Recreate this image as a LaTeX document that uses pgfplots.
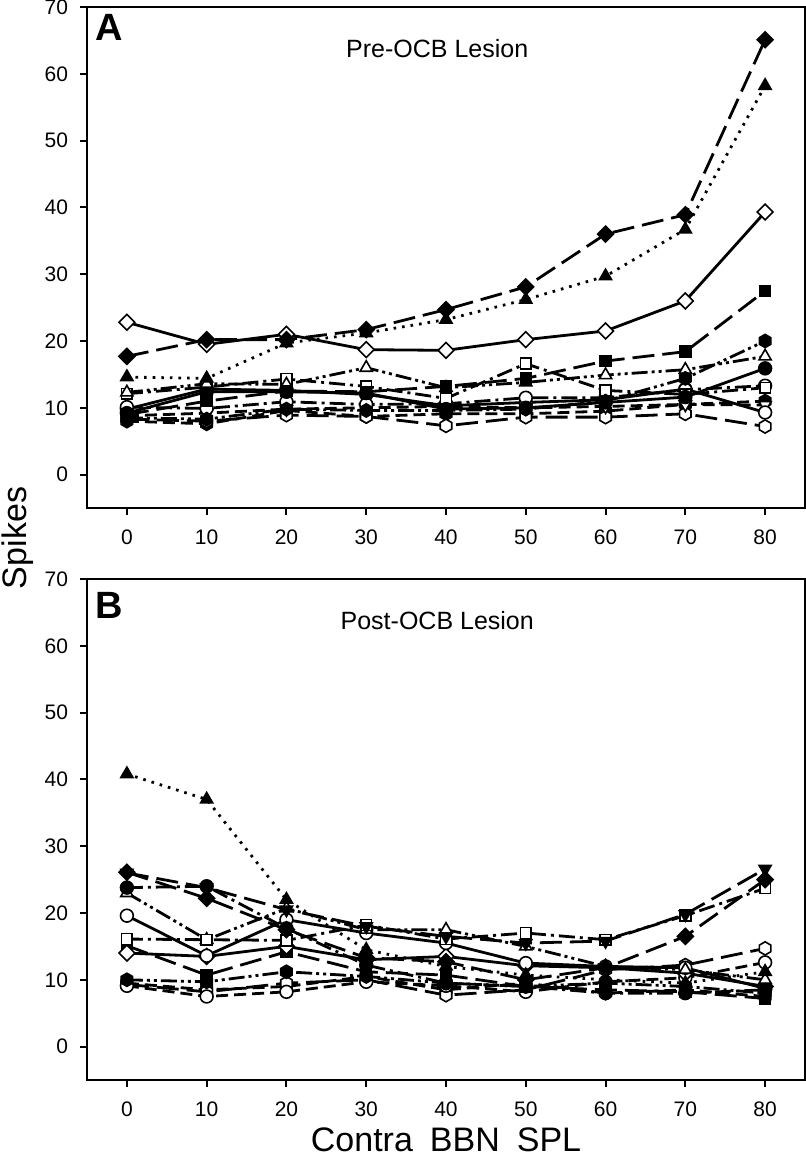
\documentclass[border=0pt]{standalone}
\usepackage{fontspec}
\setmainfont{Liberation Sans}
\usepackage{pgfplots}
\pgfplotsset{compat=1.18}
\pgfdeclareplotmark{hexagon}{%
  \pgfpathmoveto{\pgfqpointpolar{90}{\pgfplotmarksize}}%
  \pgfpathlineto{\pgfqpointpolar{150}{\pgfplotmarksize}}%
  \pgfpathlineto{\pgfqpointpolar{210}{\pgfplotmarksize}}%
  \pgfpathlineto{\pgfqpointpolar{270}{\pgfplotmarksize}}%
  \pgfpathlineto{\pgfqpointpolar{330}{\pgfplotmarksize}}%
  \pgfpathlineto{\pgfqpointpolar{30}{\pgfplotmarksize}}%
  \pgfpathclose\pgfusepathqstroke}
\pgfdeclareplotmark{hexagon*}{%
  \pgfpathmoveto{\pgfqpointpolar{90}{\pgfplotmarksize}}%
  \pgfpathlineto{\pgfqpointpolar{150}{\pgfplotmarksize}}%
  \pgfpathlineto{\pgfqpointpolar{210}{\pgfplotmarksize}}%
  \pgfpathlineto{\pgfqpointpolar{270}{\pgfplotmarksize}}%
  \pgfpathlineto{\pgfqpointpolar{330}{\pgfplotmarksize}}%
  \pgfpathlineto{\pgfqpointpolar{30}{\pgfplotmarksize}}%
  \pgfpathclose\pgfusepathqfillstroke}
\pgfplotsset{
  every axis plot/.append style={line width=1.4pt, black},
  ldash/.style={dash pattern=on 11pt off 4pt},
  mdash/.style={dash pattern=on 6pt off 3pt},
  dotl/.style={dash pattern=on 1.3pt off 3pt},
  dashdot/.style={dash pattern=on 8pt off 2.5pt on 1.5pt off 2.5pt},
  dashdotdot/.style={dash pattern=on 8pt off 2pt on 1.5pt off 2pt on 1.5pt off 2pt},
  fdia/.style={mark=square*, mark options={solid, rotate=45, fill=black, line width=0.8pt, mark size=2.8pt}},
  odia/.style={mark=square*, mark options={solid, rotate=45, fill=white, line width=0.8pt, mark size=2.8pt}},
  ftri/.style={mark=triangle*, mark options={solid, fill=black, line width=0.8pt, mark size=3.5pt}},
  otri/.style={mark=triangle*, mark options={solid, fill=white, line width=0.8pt, mark size=3.5pt}},
  fdtri/.style={mark=triangle*, mark options={solid, rotate=180, fill=black, line width=0.8pt, mark size=3.5pt}},
  odtri/.style={mark=triangle*, mark options={solid, rotate=180, fill=white, line width=0.8pt, mark size=3.5pt}},
  fsq/.style={mark=square*, mark options={solid, fill=black, line width=0.8pt, mark size=2.7pt}},
  osq/.style={mark=square*, mark options={solid, fill=white, line width=0.8pt, mark size=2.7pt}},
  fcirc/.style={mark=*, mark options={solid, fill=black, line width=0.8pt, mark size=3.2pt}},
  ocirc/.style={mark=*, mark options={solid, fill=white, line width=0.8pt, mark size=3.2pt}},
  fhex/.style={mark=hexagon*, mark options={solid, fill=black, line width=0.8pt, mark size=3.3pt}},
  ohex/.style={mark=hexagon*, mark options={solid, fill=white, line width=0.8pt, mark size=3.3pt}},
  panel/.style={width=359pt, height=250.5pt, scale only axis,
    xmin=-5, xmax=85, ymin=-5, ymax=70,
    xtick={0,10,...,80}, ytick={0,10,...,70},
    tick align=outside, tick pos=left, major tick length=3.5pt,
    axis line style={line width=1pt},
    major tick style={line width=1pt, black},
    tick label style={font=\fontsize{10.5}{12}\selectfont},
    /pgf/number format/assume math mode=true,
    yticklabel shift=2.5pt, xticklabel shift=4pt},
}
\begin{document}
\begin{tikzpicture}
\useasboundingbox (0,0) rectangle (403pt,585pt);
\begin{axis}[panel, at={(43.5pt,331pt)}, anchor=south west]
\addplot[mdash, fhex] coordinates {(0,8.0)(10,7.6)(20,9.6)(30,8.7)(40,9.1)(50,9.1)(60,9.5)(70,10.5)(80,11.0)};
\addplot[ldash, ohex] coordinates {(0,8.3)(10,8.0)(20,8.9)(30,8.7)(40,7.3)(50,8.6)(60,8.6)(70,9.1)(80,7.2)};
\addplot[mdash, odtri] coordinates {(0,8.8)(10,9.2)(20,9.8)(30,10.0)(40,10.2)(50,10.0)(60,10.2)(70,10.5)(80,10.4)};
\addplot[solid, ocirc] coordinates {(0,9.8)(10,12.8)(20,12.6)(30,12.0)(40,10.3)(50,10.8)(60,11.2)(70,12.8)(80,9.3)};
\addplot[dashdot, ocirc] coordinates {(0,10.1)(10,9.9)(20,10.9)(30,10.5)(40,10.6)(50,11.5)(60,11.5)(70,12.7)(80,13.3)};
\addplot[dashdot, osq] coordinates {(0,12.1)(10,13.1)(20,14.3)(30,13.2)(40,11.4)(50,16.6)(60,12.6)(70,12.0)(80,13.0)};
\addplot[solid, fcirc] coordinates {(0,9.2)(10,12.4)(20,12.4)(30,12.2)(40,9.8)(50,10.0)(60,10.8)(70,11.6)(80,15.9)};
\addplot[dashdotdot, otri] coordinates {(0,12.3)(10,13.6)(20,13.5)(30,16.0)(40,13.0)(50,13.8)(60,14.9)(70,15.7)(80,17.7)};
\addplot[dashdotdot, fhex] coordinates {(0,8.5)(10,8.3)(20,9.8)(30,9.6)(40,9.6)(50,9.8)(60,11.0)(70,14.4)(80,20.0)};
\addplot[ldash, fsq] coordinates {(0,9.0)(10,11.0)(20,12.5)(30,12.4)(40,13.2)(50,14.4)(60,17.0)(70,18.4)(80,27.5)};
\addplot[solid, odia] coordinates {(0,22.8)(10,19.5)(20,21.0)(30,18.7)(40,18.6)(50,20.2)(60,21.5)(70,26.0)(80,39.3)};
\addplot[dotl, ftri] coordinates {(0,14.6)(10,14.4)(20,19.7)(30,21.2)(40,23.2)(50,26.2)(60,29.7)(70,36.7)(80,58.2)};
\addplot[ldash, fdia] coordinates {(0,17.7)(10,20.2)(20,20.2)(30,21.7)(40,24.7)(50,28.1)(60,36.0)(70,38.9)(80,65.1)};
\node[font=\bfseries\fontsize{19}{20}\selectfont] at (axis cs:-2.25,67.0) {A};
\node[anchor=base, font=\fontsize{12.5}{14}\selectfont] at (axis cs:38.9,62.5) {Pre-OCB Lesion};
\end{axis}
\begin{axis}[panel, at={(43.5pt,45pt)}, anchor=south west]
\addplot[mdash, fhex] coordinates {(0,9.5)(10,8.5)(20,9.0)(30,10.5)(40,8.5)(50,9.5)(60,8.0)(70,8.5)(80,7.5)};
\addplot[ldash, ohex] coordinates {(0,9.3)(10,8.2)(20,9.5)(30,10.0)(40,7.7)(50,8.5)(60,11.5)(70,12.2)(80,14.7)};
\addplot[mdash, ocirc] coordinates {(0,9.1)(10,7.5)(20,8.2)(30,9.7)(40,9.1)(50,8.2)(60,9.7)(70,10.3)(80,12.6)};
\addplot[dashdotdot, fhex] coordinates {(0,10.0)(10,9.7)(20,11.2)(30,10.5)(40,9.5)(50,9.0)(60,9.5)(70,9.0)(80,8.0)};
\addplot[ldash, fsq] coordinates {(0,15.1)(10,10.7)(20,14.2)(30,11.2)(40,10.7)(50,9.0)(60,8.5)(70,8.2)(80,7.2)};
\addplot[solid, odia] coordinates {(0,14.0)(10,13.5)(20,15.0)(30,13.0)(40,13.5)(50,12.1)(60,11.8)(70,11.0)(80,9.0)};
\addplot[solid, ocirc] coordinates {(0,19.6)(10,13.6)(20,19.0)(30,17.0)(40,15.5)(50,12.5)(60,12.0)(70,11.8)(80,8.7)};
\addplot[dashdotdot, otri] coordinates {(0,23.0)(10,16.0)(20,20.7)(30,17.5)(40,17.5)(50,15.0)(60,12.0)(70,11.5)(80,10.0)};
\addplot[dashdot, fcirc] coordinates {(0,23.8)(10,24.0)(20,17.7)(30,12.2)(40,9.5)(50,9.0)(60,8.0)(70,8.0)(80,8.5)};
\addplot[dashdot, osq] coordinates {(0,16.1)(10,16.0)(20,15.9)(30,18.2)(40,16.1)(50,17.0)(60,16.0)(70,19.6)(80,23.7)};
\addplot[ldash, fdtri] coordinates {(0,26.0)(10,23.8)(20,20.5)(30,18.0)(40,16.5)(50,15.5)(60,15.8)(70,19.8)(80,26.6)};
\addplot[ldash, fdia] coordinates {(0,26.1)(10,22.2)(20,17.5)(30,13.3)(40,12.7)(50,10.0)(60,11.8)(70,16.5)(80,25.0)};
\addplot[dotl, ftri] coordinates {(0,40.8)(10,37.0)(20,22.0)(30,14.5)(40,12.0)(50,10.7)(60,10.0)(70,9.5)(80,11.2)};
\node[font=\bfseries\fontsize{19}{20}\selectfont] at (axis cs:-2.25,66.0) {B};
\node[anchor=base, font=\fontsize{12.5}{14}\selectfont] at (axis cs:38.9,62.4) {Post-OCB Lesion};
\end{axis}
\node[rotate=90, anchor=north, inner sep=0pt, font=\fontsize{17}{20}\selectfont] at (0.5pt,316pt) {Spikes};
\node[font=\fontsize{17}{20}\selectfont] at (223pt,15pt) {Contra\hspace{0.5em}BBN\hspace{0.5em}SPL};
\end{tikzpicture}
\end{document}
